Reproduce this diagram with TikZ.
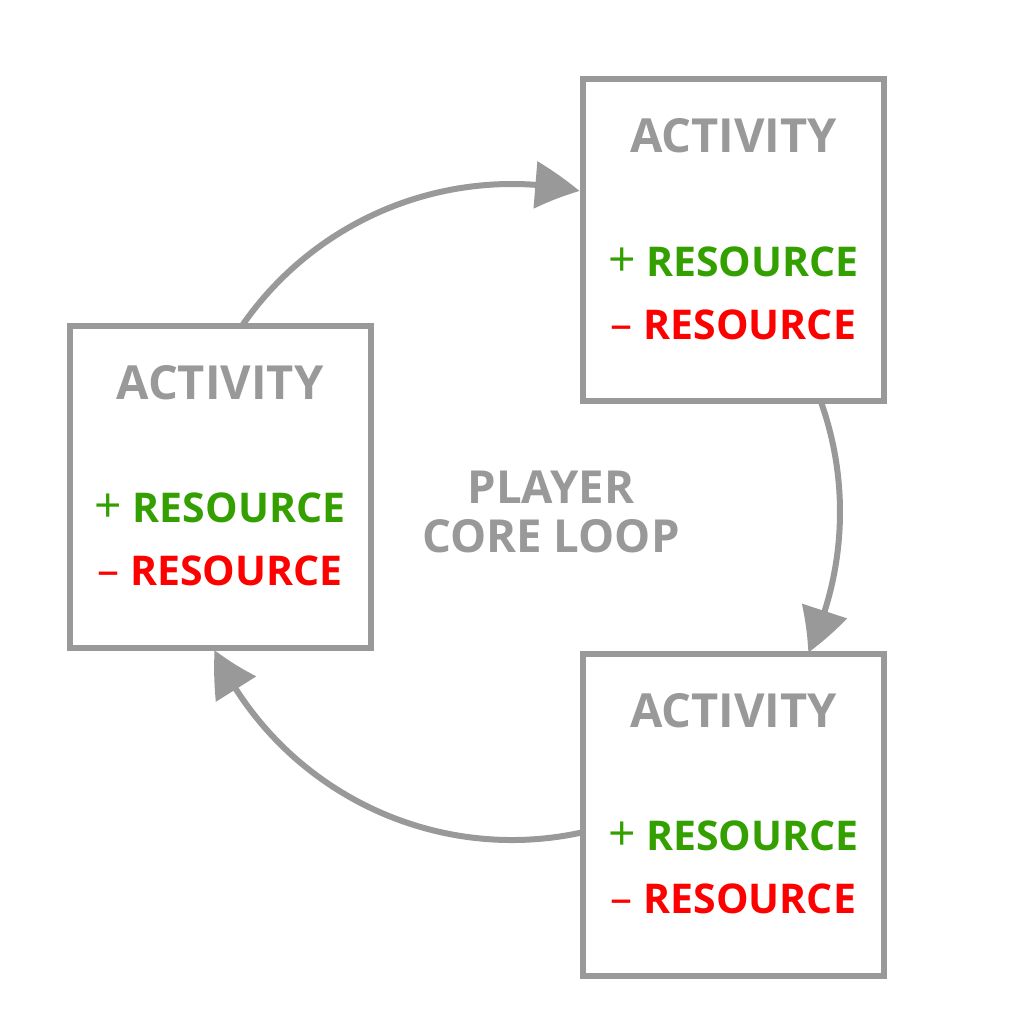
\documentclass[tikz,border=0pt]{standalone}
\usepackage{fontspec}
\setmainfont{Open Sans}
\usetikzlibrary{arrows.meta,bending}
\definecolor{lgray}{HTML}{999999}
\definecolor{rgreen}{HTML}{33A000}
\definecolor{rred}{HTML}{FF0000}
\tikzset{
  box/.style={draw=lgray, line width=6pt, minimum width=301pt, minimum height=322pt, inner sep=0pt, outer sep=0pt},
  title/.style={text=lgray, font=\fontsize{47}{50}\selectfont\bfseries, anchor=base, inner sep=0pt},
  center/.style={text=lgray, font=\fontsize{45.5}{50}\selectfont\bfseries, anchor=base, inner sep=0pt},
  plus/.style={text=rgreen, font=\fontsize{41}{50}\selectfont\bfseries, anchor=base, inner sep=0pt},
  minus/.style={text=rred, font=\fontsize{41}{50}\selectfont\bfseries, anchor=base, inner sep=0pt},
  loop/.style={draw=lgray, line width=6pt, -{Triangle[length=45pt,width=46pt,bend]}},
}
\newcommand{\boxtexts}[2]{%
  \node[title] (#1t) at ([yshift=-74pt]#2.north) {ACTIVITY};
  \node[plus] (#1p) at ([yshift=-197pt]#2.north) {{\mdseries\fontsize{48}{50}\selectfont +} RESOURCE};
  \node[minus] (#1m) at ([yshift=-260pt]#2.north) {{\mdseries\fontsize{44}{50}\selectfont –} RESOURCE};
}
\begin{document}
\begin{tikzpicture}[x=1pt,y=-1pt]
\useasboundingbox[fill=white] (0,0) rectangle (1024,1024);
\node[box] (TR) at (733.5,240) {};
\node[box] (L) at (220,486.5) {};
\node[box] (BR) at (733.5,814.5) {};
\boxtexts{tr}{TR}
\boxtexts{l}{L}
\boxtexts{br}{BR}
\node[center] (c1) at (551,503) {PLAYER};
\node[center] (c2) at (551,552) {CORE LOOP};
\coordinate (c) at (512,512);
\draw[loop] (c) ++(-145.2:328) arc[start angle=-145.2, end angle=-78.1, radius=328];
\draw[loop] (c) ++(-19.8:328) arc[start angle=-19.8, end angle=25.4, radius=328];
\draw[loop] (c) ++(77.5:328) arc[start angle=77.5, end angle=155.1, radius=328];
\end{tikzpicture}
\end{document}
